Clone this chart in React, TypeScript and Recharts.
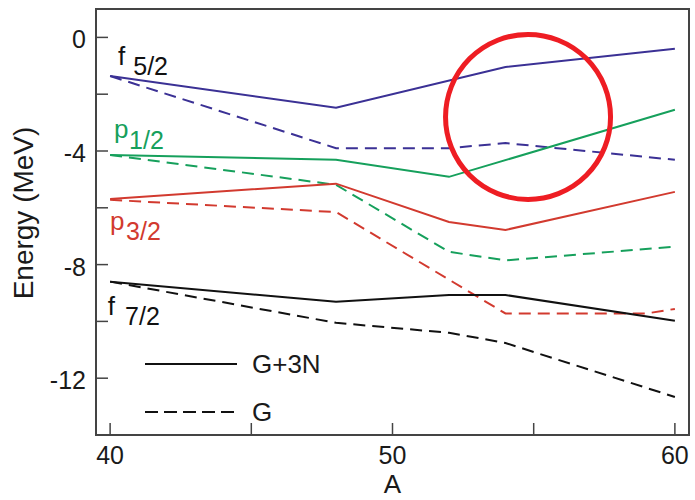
import { LineChart, Line, XAxis, YAxis, ReferenceArea, ReferenceDot } from 'recharts';

// mass number A
const MASS = [40, 48, 52, 54, 59, 60];

// single-particle energies (MeV), G+3N (solid) and G (dashed)
const F52_G3N = [-1.36, -2.48, null, -1.04, null, -0.4];
const F52_G = [-1.36, -3.9, -3.9, -3.72, null, -4.31];
const P12_G3N = [-4.14, -4.31, -4.91, null, null, -2.55];
const P12_G = [-4.14, -5.19, -7.55, -7.85, null, -7.37];
const P32_G3N = [-5.69, -5.15, -6.5, -6.78, null, -5.44];
const P32_G = [-5.72, -6.15, null, -9.72, -9.72, -9.56];
const F72_G3N = [-8.6, -9.31, -9.07, -9.07, null, -9.98];
const F72_G = [-8.6, -10.05, -10.4, -10.76, null, -12.66];

const X_TICKS = [40, 45, 50, 55, 60];
const X_LABELED = [40, 50, 60];
const Y_TICKS = [0, -2, -4, -6, -8, -10, -12];
const Y_LABELED = [0, -4, -8, -12];

const BLUE = '#3b3195';
const GREEN = '#16a05c';
const RED = '#d23a2f';
const BLACK = '#111111';
const FRAME = '#444444';
const TEXT = '#1a1a1a';

const LEVEL_LABELS = [
  { main: 'f', sub: '5/2', a: 40.28, e: -0.97, color: BLACK, dx: 8, dy: 10 },
  { main: 'p', sub: '1/2', a: 40.14, e: -3.54, color: GREEN, dx: 0.5, dy: 11 },
  { main: 'p', sub: '3/2', a: 40.0, e: -6.78, color: RED, dx: 1.5, dy: 10 },
  { main: 'f', sub: '7/2', a: 39.92, e: -9.77, color: BLACK, dx: 10, dy: 10 },
];

const SERIES = [
  { key: 'f52', color: BLUE, full: F52_G3N, bare: F52_G },
  { key: 'p12', color: GREEN, full: P12_G3N, bare: P12_G },
  { key: 'p32', color: RED, full: P32_G3N, bare: P32_G },
  { key: 'f72', color: BLACK, full: F72_G3N, bare: F72_G },
];

const data = MASS.map((a, i) => {
  const row: any = { a };
  SERIES.forEach((s) => {
    row[s.key] = s.full[i];
    row[s.key + 'g'] = s.bare[i];
  });
  return row;
});

const DASH = '12 7';

const XTick = (props: any) => {
  const { x, y, payload } = props;
  return (
    <g>
      <line x1={x} y1={y} x2={x} y2={y - 12} stroke={FRAME} strokeWidth={1.5} />
      {X_LABELED.includes(payload.value) && (
        <text x={x} y={y + 29} textAnchor="middle" fontSize={25} fill={TEXT}>
          {payload.value}
        </text>
      )}
    </g>
  );
};

const YTick = (props: any) => {
  const { x, y, payload } = props;
  return (
    <g>
      <line x1={x} y1={y} x2={x + 12} y2={y} stroke={FRAME} strokeWidth={1.5} />
      {Y_LABELED.includes(payload.value) && (
        <text x={x - 10} y={y + 11} textAnchor="end" fontSize={25} fill={TEXT}>
          {payload.value}
        </text>
      )}
    </g>
  );
};

const RightTick = (props: any) => {
  const { x, y } = props;
  return <line x1={x} y1={y} x2={x - 11} y2={y} stroke={FRAME} strokeWidth={1.5} />;
};

const levelLabel = (l: (typeof LEVEL_LABELS)[number]) => (props: any) => (
  <text x={props.cx} y={props.cy} fill={l.color} fontSize={26}>
    {l.main}
    <tspan dx={l.dx} dy={l.dy} fontSize={25}>
      {l.sub}
    </tspan>
  </text>
);

export default function App() {
  return (
    <div
      style={{
        position: 'absolute',
        left: 0,
        top: 0,
        width: 695,
        height: 500,
        background: '#fff',
        fontFamily: '"Liberation Sans", Arial, sans-serif',
      }}
    >
      <LineChart width={695} height={500} data={data} margin={{ top: 9, right: 6, bottom: 0, left: 0 }}>
        <XAxis
          dataKey="a"
          type="number"
          domain={[39.5, 60.5]}
          ticks={X_TICKS}
          interval={0}
          height={65}
          axisLine={false}
          tickLine={false}
          tickSize={0}
          tickMargin={0}
          tick={<XTick />}
          label={() => (
            <text x={392.5} y={493} textAnchor="middle" fontSize={26} fill={TEXT}>
              A
            </text>
          )}
        />
        <YAxis
          type="number"
          domain={[-14, 1]}
          ticks={Y_TICKS}
          interval={0}
          width={96}
          axisLine={false}
          tickLine={false}
          tickSize={0}
          tickMargin={0}
          tick={<YTick />}
          allowDataOverflow
          label={() => (
            <text transform="translate(33,213) rotate(-90)" textAnchor="middle" fontSize={28} fill={TEXT}>
              Energy (MeV)
            </text>
          )}
        />
        <YAxis
          yAxisId="r"
          orientation="right"
          type="number"
          domain={[-14, 1]}
          ticks={Y_TICKS}
          interval={0}
          width={0}
          axisLine={false}
          tickLine={false}
          tickSize={0}
          tickMargin={0}
          tick={<RightTick />}
          allowDataOverflow
        />
        <ReferenceArea x1={39.5} x2={60.5} y1={-14} y2={1} fill="none" stroke={FRAME} strokeWidth={2} />
        {SERIES.map((s) => (
          <Line
            key={s.key + 'g'}
            dataKey={s.key + 'g'}
            type="linear"
            stroke={s.color}
            strokeWidth={2}
            strokeDasharray={DASH}
            dot={false}
            connectNulls
            isAnimationActive={false}
          />
        ))}
        {SERIES.map((s) => (
          <Line
            key={s.key}
            dataKey={s.key}
            type="linear"
            stroke={s.color}
            strokeWidth={2}
            dot={false}
            connectNulls
            isAnimationActive={false}
          />
        ))}
        {LEVEL_LABELS.map((l) => (
          <ReferenceDot key={l.main + l.sub} x={l.a} y={l.e} r={0} shape={levelLabel(l)} />
        ))}
        <ReferenceDot x={54.8} y={-2.8} r={82.5} fill="none" stroke="#ee1d23" strokeWidth={5} />
      </LineChart>
      <svg
        width={240}
        height={90}
        style={{ position: 'absolute', left: 140, top: 340, pointerEvents: 'none' }}
      >
        <line x1={5} y1={24} x2={97} y2={24} stroke={BLACK} strokeWidth={2} />
        <text x={112} y={33} fontSize={26} fill={TEXT}>
          G+3N
        </text>
        <line x1={5} y1={72} x2={97} y2={72} stroke={BLACK} strokeWidth={2} strokeDasharray="13 6" />
        <text x={112} y={81} fontSize={26} fill={TEXT}>
          G
        </text>
      </svg>
    </div>
  );
}
